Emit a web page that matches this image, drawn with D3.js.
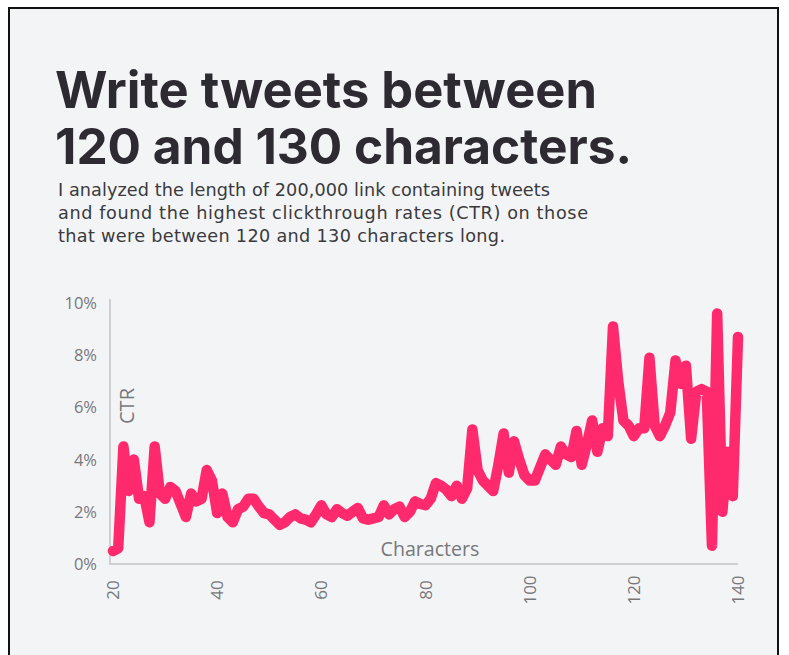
<!DOCTYPE html>
<html>
<head>
<meta charset="utf-8">
<script src="https://cdn.jsdelivr.net/npm/d3@7"></script>
<style>
  html, body { margin: 0; padding: 0; background: #ffffff; }
  svg { display: block; }
</style>
</head>
<body>
<svg id="chart" width="789" height="655"></svg>
<script>
// Tweet length (characters) and click-through rate (%) per length
const firstLength = 20;
const ctrValues = [
  0.5, 0.6, 4.5, 2.8, 4.0, 2.5, 2.6, 1.6, 4.5, 2.7,      // 20-29
  2.5, 2.95, 2.8, 2.3, 1.8, 2.7, 2.4, 2.5, 3.6, 3.2,     // 30-39
  1.95, 2.7, 1.8, 1.6, 2.1, 2.2, 2.5, 2.5, 2.2, 1.95,    // 40-49
  1.9, 1.7, 1.5, 1.6, 1.8, 1.9, 1.75, 1.7, 1.6, 1.9,     // 50-59
  2.25, 1.9, 1.8, 2.1, 1.95, 1.85, 2.0, 2.15, 1.75, 1.7, // 60-69
  1.75, 1.8, 2.25, 1.9, 2.1, 2.2, 1.8, 2.0, 2.4, 2.3,    // 70-79
  2.25, 2.5, 3.1, 3.0, 2.85, 2.6, 3.0, 2.5, 2.9, 5.15,   // 80-89
  3.6, 3.2, 3.0, 2.8, 3.8, 5.0, 3.5, 4.7, 4.0, 3.4,      // 90-99
  3.2, 3.2, 3.7, 4.2, 4.0, 3.8, 4.5, 4.2, 4.1, 5.1,      // 100-109
  3.8, 4.6, 5.5, 4.3, 5.2, 4.9, 9.1, 7.0, 5.5, 5.3,      // 110-119
  4.9, 5.2, 5.2, 7.9, 5.3, 4.9, 5.3, 5.8, 7.8, 6.9,      // 120-129
  7.6, 4.8, 6.6, 6.7, 6.6, 0.7, 9.6, 2.0, 4.3, 2.6,      // 130-139
  8.7                                                    // 140
];
const tweetLengths = ctrValues.map((_, i) => firstLength + i);

const xTicks = [20, 40, 60, 80, 100, 120, 140];
const yTicks = [0, 2, 4, 6, 8, 10];

const titleLines = ["Write tweets between", "120 and 130 characters."];
const subtitleLines = [
  "I analyzed the length of 200,000 link containing tweets",
  "and found the highest clickthrough rates (CTR) on those",
  "that were between 120 and 130 characters long."
];

const svg = d3.select("#chart");

// Framed panel
svg.append("rect")
  .attr("x", 9).attr("y", 8)
  .attr("width", 769).attr("height", 670)
  .attr("fill", "#f3f4f6")
  .attr("stroke", "#111").attr("stroke-width", 2);

// Scale a text element's font size so it spans a given width
function fitWidth(sel, width) {
  const node = sel.node();
  const size = parseFloat(sel.attr("font-size"));
  const w = node.getComputedTextLength();
  sel.attr("font-size", (size * width / w).toFixed(2));
  return sel;
}

// Headline
const titleBaselines = [108, 164];
const titleWidths = [542, 577];
titleLines.forEach((t, i) => {
  const el = svg.append("text")
    .attr("x", 55).attr("y", titleBaselines[i])
    .attr("font-family", "Inter, 'Open Sans', sans-serif")
    .attr("font-weight", 700)
    .attr("font-size", 48)
    .attr("fill", "#2e2a31")
    .text(t);
  fitWidth(el, titleWidths[i]);
});

// Intro paragraph: one glyph size, letter spacing stretched per line
const subBaselines = [196, 219, 242];
const subWidths = [492, 530, 447];
const subText = svg.append("g")
  .attr("font-family", "'DejaVu Sans', sans-serif")
  .attr("fill", "#3a3a3d");
const subEls = subtitleLines.map((t, i) =>
  subText.append("text")
    .attr("x", 58).attr("y", subBaselines[i])
    .attr("font-size", 15)
    .text(t));
fitWidth(subEls[0], 488);
const subSize = subEls[0].attr("font-size");
subEls.forEach((el, i) => el
  .attr("font-size", subSize)
  .attr("textLength", subWidths[i])
  .attr("lengthAdjust", "spacing"));

// Plot area
const x = d3.scaleLinear().domain([20, 140]).range([113, 738]);
const y = d3.scaleLinear().domain([0, 10]).range([564, 303]);

const axisColor = "#cdcfd2";
const labelColor = "#77787c";

// Axis lines
svg.append("line")
  .attr("x1", 110).attr("x2", 110)
  .attr("y1", 299).attr("y2", 565)
  .attr("stroke", axisColor).attr("stroke-width", 2);
svg.append("line")
  .attr("x1", 109).attr("x2", 738)
  .attr("y1", 564).attr("y2", 564)
  .attr("stroke", axisColor).attr("stroke-width", 2);

// Y tick labels
svg.append("g")
  .selectAll("text")
  .data(yTicks)
  .join("text")
  .attr("x", 97)
  .attr("y", d => y(d))
  .attr("dy", "0.36em")
  .attr("text-anchor", "end")
  .attr("font-family", "'Open Sans', sans-serif")
  .attr("font-size", 16.5)
  .attr("fill", labelColor)
  .text(d => d + "%");

// X tick labels, rotated
svg.append("g")
  .selectAll("text")
  .data(xTicks)
  .join("text")
  .attr("transform", d => `translate(${x(d)},590) rotate(-90)`)
  .attr("dy", "0.36em")
  .attr("text-anchor", "middle")
  .attr("font-family", "'Open Sans', sans-serif")
  .attr("font-size", 17)
  .attr("fill", labelColor)
  .text(d => d);

// Axis titles
const ctrLabel = svg.append("text")
  .attr("transform", "translate(127,406) rotate(-90)")
  .attr("dy", "0.36em")
  .attr("text-anchor", "middle")
  .attr("font-family", "'Open Sans', sans-serif")
  .attr("font-size", 15)
  .attr("fill", labelColor)
  .text("CTR");
fitWidth(ctrLabel, 36);

const charLabel = svg.append("text")
  .attr("x", 430).attr("y", 556)
  .attr("text-anchor", "middle")
  .attr("font-family", "'Open Sans', sans-serif")
  .attr("font-size", 17)
  .attr("fill", labelColor)
  .text("Characters");
fitWidth(charLabel, 99);

// CTR line
const line = d3.line()
  .x((d, i) => x(tweetLengths[i]))
  .y(d => y(d));

svg.append("path")
  .datum(ctrValues)
  .attr("d", line)
  .attr("fill", "none")
  .attr("stroke", "#ff2a6d")
  .attr("stroke-width", 10.5)
  .attr("stroke-linejoin", "round")
  .attr("stroke-linecap", "round");
</script>
</body>
</html>
